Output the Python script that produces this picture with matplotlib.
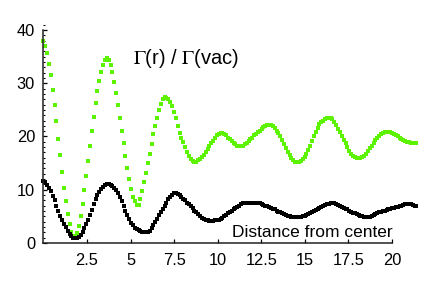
import numpy as np
import matplotlib
matplotlib.use("Agg")
import matplotlib.pyplot as plt
from matplotlib.ticker import MultipleLocator, FixedLocator

# Green series: Gamma(r)/Gamma(vac) (upper curve)
green = [
    38.0, 37.0, 35.6, 33.6, 31.5, 28.8, 26.0, 22.9, 19.6, 16.6,
    13.3, 10.4, 7.9, 5.5, 3.6, 2.0, 1.4, 1.2, 1.9, 3.2,
    5.0, 7.3, 9.9, 12.6, 15.4, 18.2, 21.0, 23.7, 26.2, 28.5,
    30.5, 32.2, 33.5, 34.4, 34.8, 34.4, 33.5, 32.1, 30.3, 28.2,
    25.9, 23.5, 21.1, 18.7, 16.3, 14.0, 12.0, 10.2, 8.7, 7.8,
    7.1, 7.2, 8.3, 9.8, 11.5, 13.2, 15.0, 16.8, 18.6, 20.4,
    22.0, 23.5, 24.9, 26.1, 27.0, 27.4, 27.3, 27.0, 26.5, 25.7,
    24.6, 23.4, 22.0, 20.7, 19.8, 19.0, 18.0, 17.0, 16.3, 15.8,
    15.4, 15.2, 15.2, 15.5, 15.8, 16.2, 16.6, 17.1, 17.7, 18.2,
    18.8, 19.2, 19.7, 20.2, 20.5, 20.7, 20.7, 20.5, 20.2, 19.8,
    19.5, 19.1, 18.8, 18.5, 18.3, 18.2, 18.2, 18.3, 18.5, 18.8,
    19.1, 19.5, 19.8, 20.2, 20.5, 20.8, 21.1, 21.4, 21.7, 22.0,
    22.2, 22.2, 22.1, 21.9, 21.6, 21.1, 20.6, 20.0, 19.3, 18.6,
    17.8, 17.1, 16.5, 16.0, 15.6, 15.3, 15.2, 15.2, 15.4, 15.7,
    16.1, 16.7, 17.5, 18.3, 19.2, 20.1, 20.9, 21.6, 22.3, 22.7,
    23.0, 23.2, 23.4, 23.4, 23.4, 23.2, 22.8, 22.2, 21.5, 20.8,
    20.1, 19.4, 18.7, 18.0, 17.3, 16.8, 16.4, 16.1, 15.9, 15.9,
    15.9, 16.1, 16.4, 16.8, 17.3, 17.8, 18.3, 18.8, 19.3, 19.7,
    20.1, 20.4, 20.6, 20.8, 20.9, 20.9, 20.9, 20.7, 20.5, 20.2,
    20.0, 19.8, 19.5, 19.3, 19.2, 19.0, 18.9, 18.8, 18.8, 18.8,
    18.8,
]

# Black series (lower curve)
black = [
    11.7, 11.4, 10.9, 10.4, 9.7, 8.9, 8.0, 7.0, 6.0, 5.1,
    4.3, 3.6, 3.0, 2.3, 1.7, 1.3, 1.0, 0.9, 0.9, 1.1,
    1.5, 2.0, 2.8, 3.5, 4.3, 5.2, 6.2, 7.3, 8.2, 9.0,
    9.6, 10.2, 10.6, 10.8, 11.0, 11.0, 10.9, 10.7, 10.3, 9.9,
    9.3, 8.6, 7.8, 6.9, 6.0, 5.2, 4.5, 3.8, 3.3, 2.9,
    2.6, 2.4, 2.2, 2.1, 2.1, 2.1, 2.1, 2.3, 2.8, 3.4,
    4.0, 4.6, 5.2, 5.8, 6.4, 7.0, 7.6, 8.2, 8.7, 9.1,
    9.3, 9.3, 9.2, 9.0, 8.7, 8.3, 8.0, 7.6, 7.3, 6.9,
    6.5, 6.1, 5.8, 5.4, 5.0, 4.7, 4.5, 4.4, 4.3, 4.2,
    4.2, 4.2, 4.3, 4.3, 4.4, 4.5, 4.7, 5.0, 5.3, 5.6,
    5.9, 6.1, 6.3, 6.5, 6.8, 7.0, 7.3, 7.5, 7.6, 7.6,
    7.6, 7.6, 7.6, 7.6, 7.6, 7.6, 7.5, 7.4, 7.2, 7.0,
    6.9, 6.7, 6.6, 6.4, 6.3, 6.1, 5.9, 5.8, 5.6, 5.4,
    5.3, 5.1, 5.0, 4.9, 4.9, 4.85, 4.85, 4.85, 4.9, 5.0,
    5.1, 5.3, 5.4, 5.6, 5.8, 6.0, 6.2, 6.4, 6.6, 6.8,
    7.0, 7.1, 7.3, 7.4, 7.5, 7.5, 7.5, 7.4, 7.2, 7.0,
    6.8, 6.6, 6.4, 6.3, 6.1, 5.9, 5.7, 5.6, 5.4, 5.3,
    5.1, 5.0, 4.9, 4.85, 4.85, 4.9, 5.0, 5.2, 5.4, 5.6,
    5.8, 5.9, 6.0, 6.1, 6.2, 6.3, 6.4, 6.5, 6.6, 6.7,
    6.8, 6.9, 7.0, 7.2, 7.3, 7.4, 7.4, 7.3, 7.1, 7.0,
    6.9,
]

x_max = 21.4
x_green = np.linspace(0, x_max, len(green))
x_black = np.linspace(0, x_max, len(black))

x_ticks = [2.5, 5, 7.5, 10, 12.5, 15, 17.5, 20]
x_ticklabels = ["2.5", "5", "7.5", "10", "12.5", "15", "17.5", "20"]
y_ticks = [0, 10, 20, 30, 40]
y_ticklabels = ["0", "10", "20", "30", "40"]

plt.rcParams["font.family"] = ["Liberation Sans", "DejaVu Sans"]
plt.rcParams["mathtext.fontset"] = "stix"

W, H = 436, 281
fig = plt.figure(figsize=(W / 100, H / 100), dpi=100)

# axes placement in pixels
left_px, bottom_px = 43.4, 243.0
ppu_x, ppu_y = 17.43, 5.325
xlim = (0, 21.6)
ylim = (0, 41)
ax = fig.add_axes([left_px / W, 1 - bottom_px / H,
                   (xlim[1] - xlim[0]) * ppu_x / W,
                   (ylim[1] - ylim[0]) * ppu_y / H])
ax.set_xlim(*xlim)
ax.set_ylim(*ylim)
ax.patch.set_alpha(0)

ax.plot(x_green, green, ls="none", marker="s", ms=2.4, mew=0,
        color="#5CF200", clip_on=False)
ax.plot(x_black, black, ls="none", marker="s", ms=2.4, mew=0,
        color="black", clip_on=False)

for s in ["top", "right"]:
    ax.spines[s].set_visible(False)
ax.spines["left"].set_bounds(0, 40)
ax.spines["bottom"].set_bounds(0, 20)
for s in ["left", "bottom"]:
    ax.spines[s].set_linewidth(1.1)
    ax.spines[s].set_color("#222222")

ax.xaxis.set_major_locator(FixedLocator(x_ticks))
ax.set_xticklabels(x_ticklabels)
ax.yaxis.set_major_locator(FixedLocator(y_ticks))
ax.set_yticklabels(y_ticklabels)
ax.yaxis.set_minor_locator(MultipleLocator(1))
ax.tick_params(axis="both", which="major", direction="in", length=3,
               width=0.9, labelsize=11.8, colors="black")
ax.tick_params(axis="x", pad=7)
ax.tick_params(axis="y", pad=6)
ax.tick_params(axis="y", which="minor", direction="in", length=1.6, width=0.8)

fig.text(133.3 / W, 1 - 64 / H, r"$\Gamma$(r) / $\Gamma$(vac)",
         fontsize=14.5, ha="left", va="baseline")
fig.text(231.7 / W, 1 - 237 / H, "Distance from center",
         fontsize=12.5, ha="left", va="baseline")

fig.savefig("out.png", dpi=100)
